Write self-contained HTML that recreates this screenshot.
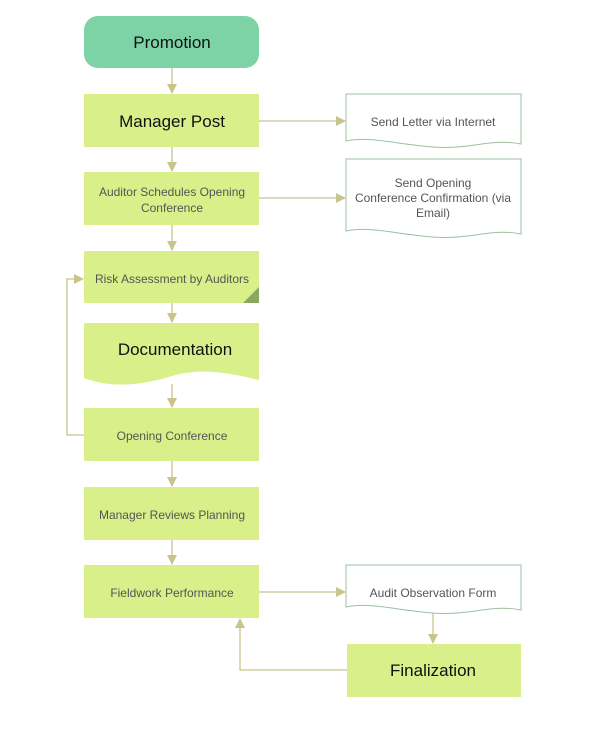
<!DOCTYPE html>
<html><head><style>
body{margin:0;background:#fff;width:614px;height:725px;overflow:hidden}
</style></head><body>
<svg width="614" height="725" viewBox="0 0 614 725" xmlns="http://www.w3.org/2000/svg" font-family="Liberation Sans, sans-serif">
<defs>
<marker id="a" markerWidth="10" markerHeight="10" refX="9" refY="5" orient="auto" markerUnits="userSpaceOnUse">
<path d="M0,0 L10,5 L0,10 z" fill="#c8c48c"/></marker>
</defs>
<g stroke="#c8c48c" stroke-width="1.3" fill="none">
<line x1="172" y1="68" x2="172" y2="93" marker-end="url(#a)"/>
<line x1="172" y1="147" x2="172" y2="171" marker-end="url(#a)"/>
<line x1="172" y1="225" x2="172" y2="250" marker-end="url(#a)"/>
<line x1="172" y1="303" x2="172" y2="322" marker-end="url(#a)"/>
<line x1="172" y1="384" x2="172" y2="407" marker-end="url(#a)"/>
<line x1="172" y1="461" x2="172" y2="486" marker-end="url(#a)"/>
<line x1="172" y1="540" x2="172" y2="564" marker-end="url(#a)"/>
<line x1="259" y1="121" x2="345" y2="121" marker-end="url(#a)"/>
<line x1="259" y1="198" x2="345" y2="198" marker-end="url(#a)"/>
<line x1="259" y1="592" x2="345" y2="592" marker-end="url(#a)"/>
<line x1="433" y1="612" x2="433" y2="643" marker-end="url(#a)"/>
<polyline points="84,435 67,435 67,279 83,279" marker-end="url(#a)"/>
<polyline points="347,670 240,670 240,619" marker-end="url(#a)"/>
</g>
<rect x="84" y="16" width="175" height="52" rx="14" fill="#7dd3a6"/>
<text x="172" y="48" font-size="17" text-anchor="middle" fill="#111">Promotion</text>
<g fill="#d9ef8a">
<rect x="84" y="94" width="175" height="53"/>
<rect x="84" y="172" width="175" height="53"/>
<rect x="84" y="251" width="175" height="52"/>
<path d="M84,323 H259 V380 C225,372 200,368 172,376 C140,386 110,388 84,378 Z"/>
<rect x="84" y="408" width="175" height="53"/>
<rect x="84" y="487" width="175" height="53"/>
<rect x="84" y="565" width="175" height="53"/>
<rect x="347" y="644" width="174" height="53"/>
</g>
<path d="M243,303 L259,287 L259,303 Z" fill="#8aa860"/>
<g fill="#fff" stroke="#9cc0a0" stroke-width="1">
<path d="M346,94 H521 V144 C490,138 470,150 433,147 C395,144 370,136 346,141 Z"/>
<path d="M346,159 H521 V234 C490,228 470,240 433,237 C395,234 370,226 346,231 Z"/>
<path d="M346,565 H521 V610 C490,604 470,616 433,613 C395,610 370,602 346,607 Z"/>
</g>
<g text-anchor="middle" fill="#555" font-size="12">
<text x="172" y="127" font-size="17" fill="#111">Manager Post</text>
<text x="172" y="196">Auditor Schedules Opening</text>
<text x="172" y="212">Conference</text>
<text x="172" y="283">Risk Assessment by Auditors</text>
<text x="175" y="355" font-size="17" fill="#111">Documentation</text>
<text x="172" y="440">Opening Conference</text>
<text x="172" y="519">Manager Reviews Planning</text>
<text x="172" y="597">Fieldwork Performance</text>
<text x="433" y="676" font-size="17" fill="#111">Finalization</text>
<text x="433" y="126">Send Letter via Internet</text>
<text x="433" y="187">Send Opening</text>
<text x="433" y="202">Conference Confirmation (via</text>
<text x="433" y="217">Email)</text>
<text x="433" y="597">Audit Observation Form</text>
</g>
</svg>
</body></html>
